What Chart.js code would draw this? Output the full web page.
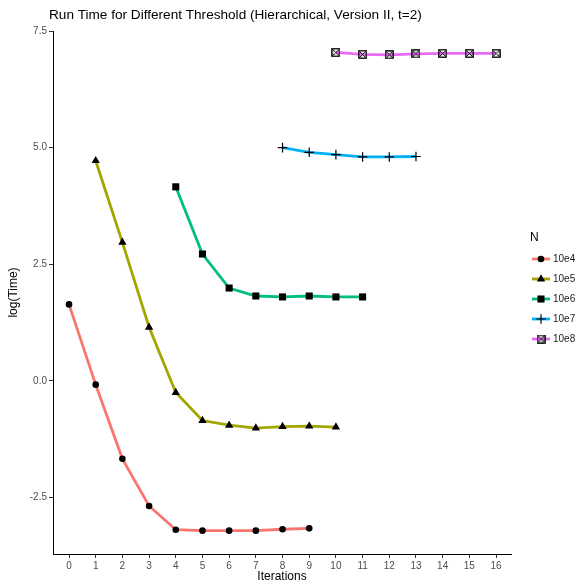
<!DOCTYPE html>
<html>
<head>
<meta charset="utf-8">
<script src="https://cdn.jsdelivr.net/npm/chart.js@4.4.1/dist/chart.umd.min.js"></script>
<style>
  html, body { margin: 0; padding: 0; background: #fff; }
  #wrap { width: 579px; height: 584px; }
</style>
</head>
<body>
<div id="wrap"><canvas id="myChart" width="579" height="584"></canvas></div>
<script>
// ---------------- data ----------------
var seriesNames = ['10e4', '10e5', '10e6', '10e7', '10e8'];
var firstIter = [0, 1, 4, 8, 10];
var time10e4 = [1.64, -0.08, -1.67, -2.68, -3.19, -3.21, -3.21, -3.21, -3.18, -3.16];
var time10e5 = [4.72, 2.97, 1.15, -0.25, -0.85, -0.95, -1.01, -0.98, -0.97, -0.99];
var time10e6 = [4.16, 2.72, 1.99, 1.82, 1.80, 1.82, 1.80, 1.80];
var time10e7 = [5.00, 4.90, 4.85, 4.80, 4.80, 4.81];
var time10e8 = [7.04, 7.00, 6.99, 7.01, 7.02, 7.02, 7.02];
var xTicks = [0, 1, 2, 3, 4, 5, 6, 7, 8, 9, 10, 11, 12, 13, 14, 15, 16];
var yTicks = [-2.5, 0, 2.5, 5, 7.5];

var chartTitle = 'Run Time for Different Threshold (Hierarchical, Version II, t=2)';
var xTitle = 'Iterations';
var yTitle = 'log(Time)';
var legendTitle = 'N';

// ---------------- styles ----------------
var colors = ['#F8766D', '#A3A500', '#00BF7D', '#00B0F6', '#E76BF3'];

// square with an X inside (ggplot shape 7)
function boxCross() {
  var c = document.createElement('canvas');
  c.width = 9; c.height = 9;
  var g = c.getContext('2d');
  g.strokeStyle = '#000';
  g.lineWidth = 1.3;
  g.strokeRect(0.8, 0.8, 7.4, 7.4);
  g.lineWidth = 1;
  g.beginPath();
  g.moveTo(1.5, 1.5); g.lineTo(7.5, 7.5);
  g.moveTo(7.5, 1.5); g.lineTo(1.5, 7.5);
  g.stroke();
  return c;
}
var boxImg = boxCross();

var markers = [
  { pointStyle: 'circle', radius: 3.3, borderWidth: 0 },
  { pointStyle: 'triangle', radius: 4.8, borderWidth: 0 },
  { pointStyle: 'rect', radius: 5, borderWidth: 0 },
  { pointStyle: 'cross', radius: 4.8, borderWidth: 1.2 },
  { pointStyle: boxImg, radius: 4.5, borderWidth: 1 }
];

var allTimes = [time10e4, time10e5, time10e6, time10e7, time10e8];

var datasets = allTimes.map(function (arr, i) {
  return {
    label: seriesNames[i],
    data: arr.map(function (v, j) { return { x: firstIter[i] + j, y: v }; }),
    borderColor: colors[i],
    borderWidth: 2.8,
    backgroundColor: colors[i],
    pointStyle: markers[i].pointStyle,
    pointRadius: markers[i].radius,
    pointBorderWidth: markers[i].borderWidth,
    pointBackgroundColor: '#000',
    pointBorderColor: '#000',
    tension: 0
  };
});

// title, axis titles and the legend drawn by hand (ggplot look)
var decor = {
  id: 'decor',
  afterDraw: function (chart) {
    var ctx = chart.ctx;
    var ca = chart.chartArea;
    ctx.save();
    ctx.fillStyle = '#000';
    ctx.font = '13.6px "Liberation Sans", Arial, sans-serif';
    ctx.textAlign = 'left';
    ctx.textBaseline = 'alphabetic';
    ctx.fillText(chartTitle, 49, 19);

    ctx.font = '12px "Liberation Sans", Arial, sans-serif';
    ctx.textAlign = 'center';
    ctx.textBaseline = 'middle';
    ctx.fillText(xTitle, (ca.left + ca.right) / 2, 577);
    ctx.save();
    ctx.translate(14, (ca.top + ca.bottom) / 2);
    ctx.rotate(-Math.PI / 2);
    ctx.fillText(yTitle, 0, 0);
    ctx.restore();

    // legend
    ctx.textAlign = 'left';
    ctx.fillText(legendTitle, 530, 238);
    ctx.font = '10px "Liberation Sans", Arial, sans-serif';
    for (var i = 0; i < seriesNames.length; i++) {
      var y = 259 + 20 * i;
      ctx.strokeStyle = colors[i];
      ctx.lineWidth = 2.8;
      ctx.beginPath();
      ctx.moveTo(532, y);
      ctx.lineTo(550, y);
      ctx.stroke();
      ctx.fillStyle = '#000';
      ctx.strokeStyle = '#000';
      ctx.lineWidth = markers[i].borderWidth || 1;
      Chart.helpers.drawPoint(ctx, {
        pointStyle: markers[i].pointStyle,
        radius: markers[i].radius,
        rotation: 0,
        borderWidth: markers[i].borderWidth
      }, 541, y);
      ctx.fillStyle = '#1a1a1a';
      ctx.fillText(seriesNames[i], 553, y + 0.5);
    }
    ctx.restore();
  }
};

var tickFont = { family: '"Liberation Sans", Arial, sans-serif', size: 10 };

var config = {
  type: 'line',
  data: { datasets: datasets },
  options: {
    responsive: false,
    devicePixelRatio: 1,
    animation: false,
    layout: { padding: { top: 31, right: 68, left: 0, bottom: 0 } },
    plugins: {
      legend: { display: false },
      title: { display: false },
      tooltip: { enabled: false }
    },
    scales: {
      x: {
        type: 'linear',
        min: -0.6,
        max: 16.56,
        afterBuildTicks: function (s) { s.ticks = xTicks.map(function (v) { return { value: v }; }); },
        afterFit: function (s) { s.height = 30; },
        grid: { drawOnChartArea: false, drawTicks: true, tickLength: 4, color: '#333' },
        border: { display: true, color: '#000', width: 1 },
        ticks: { color: '#4d4d4d', font: tickFont, padding: 2, maxRotation: 0, autoSkip: false }
      },
      y: {
        type: 'linear',
        min: -3.71,
        max: 7.5,
        afterBuildTicks: function (s) { s.ticks = yTicks.map(function (v) { return { value: v }; }); },
        afterFit: function (s) { s.width = 53; },
        grid: { drawOnChartArea: false, drawTicks: true, tickLength: 4, color: '#333' },
        border: { display: true, color: '#000', width: 1 },
        ticks: {
          color: '#4d4d4d', font: tickFont, padding: 2,
          callback: function (v) { return Number(v).toFixed(1); }
        }
      }
    }
  },
  plugins: [decor]
};

var myChart = new Chart(document.getElementById('myChart'), config);
</script>
</body>
</html>
